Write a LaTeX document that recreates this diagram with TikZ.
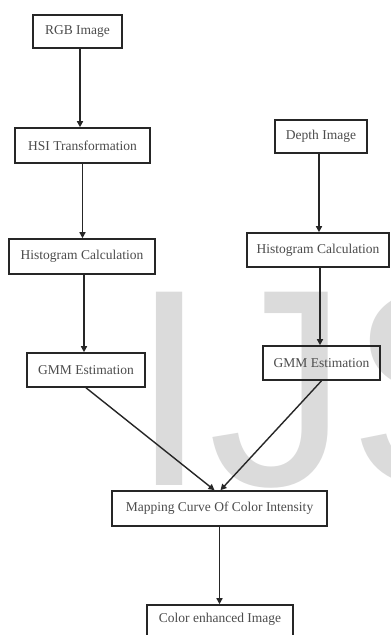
\documentclass[tikz,border=0pt]{standalone}
\usepackage{fontspec}
\setmainfont{Liberation Serif}
\newfontfamily\wmfont{Liberation Sans}
\usetikzlibrary{arrows.meta}
\begin{document}
\begin{tikzpicture}[x=1pt,y=-1pt,
  box/.style={draw=black!85,line width=1.6pt,inner sep=0pt,
    font=\fontsize{13.5}{15}\selectfont,text=black!70},
  link/.style={draw=black!85,line width=1.4pt,-{Triangle[length=6pt,width=6pt]}}]
\useasboundingbox (0,0) rectangle (391,635);
\clip (0,0) rectangle (391,635);
\fill[white] (0,0) rectangle (391,635);
% watermark
\node[anchor=base west,inner sep=0pt,text=black!14,
  font=\wmfont\fontsize{281}{281}\selectfont] (wm) at (130,485) {IJS};
% boxes
\node[box,minimum width=89pt,minimum height=33pt] (rgb) at (77.5,31.5) {RGB Image};
\node[box,minimum width=135pt,minimum height=35pt] (hsi) at (82.5,145.5) {HSI Transformation};
\node[box,minimum width=146pt,minimum height=35pt] (histl) at (82,256.5) {Histogram Calculation};
\node[box,minimum width=118pt,minimum height=34pt] (gmml) at (86,370) {GMM Estimation};
\node[box,minimum width=92pt,minimum height=33pt] (depth) at (321,136.5) {Depth Image};
\node[box,minimum width=142pt,minimum height=34pt] (histr) at (318,250) {Histogram Calculation};
\node[box,minimum width=117pt,minimum height=34pt] (gmmr) at (321.5,363) {GMM Estimation};
\node[box,minimum width=215pt,minimum height=35pt] (map) at (219.5,508.5) {Mapping Curve Of Color Intensity};
\node[box,minimum width=146pt,minimum height=35pt,text depth=0pt] (col) at (220,622.5) {\raisebox{10pt}{Color enhanced Image}};
% connectors
\draw[link] ([xshift=2.5pt]rgb.south) -- ([xshift=2.5pt]rgb.south |- hsi.north);
\draw[link] (hsi.south) -- (hsi.south |- histl.north);
\draw[link] ([xshift=2pt]histl.south) -- ([xshift=2pt]histl.south |- gmml.north);
\draw[link] ([xshift=-2pt]depth.south) -- ([xshift=-2pt]depth.south |- histr.north);
\draw[link] ([xshift=2pt]histr.south) -- ([xshift=2pt]histr.south |- gmmr.north);
\draw[link] (gmml.south) -- ([xshift=-5pt]map.north);
\draw[link] (gmmr.south) -- ([xshift=1pt]map.north);
\draw[link] (map.south) -- (map.south |- col.north);
\end{tikzpicture}
\end{document}
